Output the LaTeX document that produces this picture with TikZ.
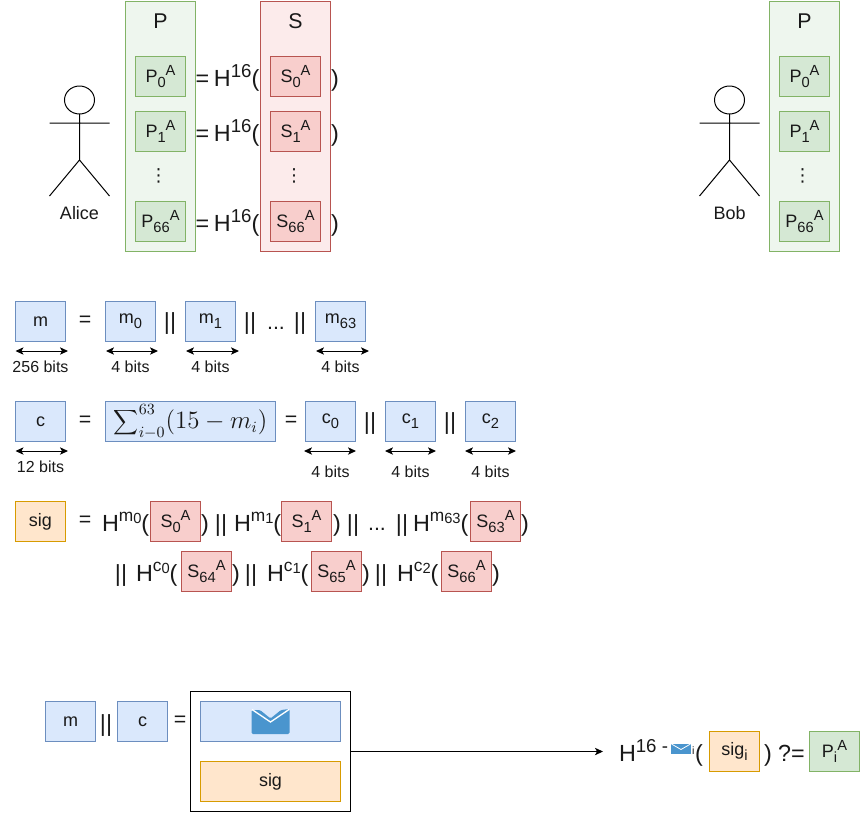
\documentclass[tikz,border=0pt]{standalone}
\usepackage{fontspec}
\setmainfont{Liberation Sans}
\newfontfamily\dejavu{DejaVu Sans}
\usetikzlibrary{arrows.meta}
\definecolor{bluef}{HTML}{DAE8FC}\definecolor{blued}{HTML}{6C8EBF}
\definecolor{greenf}{HTML}{D5E8D4}\definecolor{greend}{HTML}{82B366}
\definecolor{redf}{HTML}{F8CECC}\definecolor{redd}{HTML}{B85450}
\definecolor{orf}{HTML}{FFE6CC}\definecolor{ord}{HTML}{D79B00}
\definecolor{greenp}{HTML}{EEF6EE}\definecolor{redp}{HTML}{FCEBEB}
\definecolor{mail}{HTML}{4A95CE}
\newcommand{\lo}[1]{\raisebox{-0.27em}{\fontsize{11}{11}\selectfont #1}}
\newcommand{\hi}[1]{\raisebox{0.4em}{\fontsize{11}{11}\selectfont #1}}
\newcommand{\bhi}[1]{\raisebox{0.4em}{\fontsize{14}{14}\selectfont #1}}
\newcommand{\shi}[2]{\raisebox{0.42em}{\fontsize{13}{14}\selectfont #1\raisebox{-0.12em}{\fontsize{11}{12}\selectfont #2}}}
\tikzset{
  x=0.75pt,y=-0.75pt,
  every node/.style={inner sep=0pt,outer sep=0pt,text=black!90},
  cellbox/.style={minimum width=37.5pt,minimum height=30pt,anchor=north west,draw,line width=0.75pt,font=\fontsize{13.5}{16}\selectfont},
  bluebox/.style={cellbox,fill=bluef,draw=blued},
  greenbox/.style={cellbox,fill=greenf,draw=greend},
  redbox/.style={cellbox,fill=redf,draw=redd},
  orbox/.style={cellbox,fill=orf,draw=ord},
  panelp/.style={anchor=north west,minimum width=52.5pt,minimum height=187.5pt,draw=greend,fill=greenp,line width=0.75pt},
  panels/.style={anchor=north west,minimum width=52.5pt,minimum height=187.5pt,draw=redd,fill=redp,line width=0.75pt},
  big/.style={anchor=base west,font=\fontsize{17.5}{20}\selectfont},
  bigc/.style={anchor=base,font=\fontsize{17.5}{20}\selectfont},
  small/.style={font=\fontsize{12}{14}\selectfont},
  name label/.style={font=\fontsize{13.5}{16}\selectfont},
  title/.style={font=\fontsize{16}{18}\selectfont},
  op/.style={font=\fontsize{16}{18}\selectfont},
  dotsbase/.style={anchor=base,font=\fontsize{16}{18}\selectfont},
  vdots/.style={font=\dejavu\fontsize{13.5}{14}\selectfont},
  span/.style={{Stealth[length=6pt,width=5.5pt,inset=1.5pt]}-{Stealth[length=6pt,width=5.5pt,inset=1.5pt]},line width=0.75pt},
  actorline/.style={line width=0.75pt,draw=black},
}
\begin{document}
\begin{tikzpicture}
\useasboundingbox (0,0) rectangle (862,814);
% Alice panels
\node[panelp] (pa) at (125.5,1.5) {};
\node[panels] (sa) at (260.5,1.5) {};
\node[title] (pat) at (160.5,21) {P};
\node[title] (sat) at (295.5,21) {S};
\node[greenbox] (p0) at (135.5,56.5) {P\lo{0}\hi{A}};
\node[greenbox] (p1) at (135.5,111.5) {P\lo{1}\hi{A}};
\node[greenbox] (p66) at (135.5,201.5) {P\lo{66}\hi{A}};
\node[vdots] (pd) at (158.5,176) {⋮};
\node[redbox] (s0) at (270.5,56.5) {S\lo{0}\hi{A}};
\node[redbox] (s1) at (270.5,111.5) {S\lo{1}\hi{A}};
\node[redbox] (s66) at (270.5,201.5) {S\lo{66}\hi{A}};
\node[vdots] (sd) at (294,176) {⋮};
\foreach \n/\y in {a/86.5,b/141.5,c/231.5}{
  \node[big] (eq\n) at (195.5,\y) {=\hspace{3.6pt}H\bhi{16}(};
  \node[big] (cl\n) at (331,\y) {)};
}
% Actors
\draw[actorline] (79.5,100) ellipse[x radius=15,y radius=14];
\draw[actorline] (49.5,123) -- (109.5,123) (79.5,114) -- (79.5,160) (49.5,196) -- (79.5,160) -- (109.5,196);
\node[name label] (alice) at (79.5,213) {Alice};
\draw[actorline] (729.5,100) ellipse[x radius=15,y radius=14];
\draw[actorline] (699.5,123) -- (759.5,123) (729.5,114) -- (729.5,160) (699.5,196) -- (729.5,160) -- (759.5,196);
\node[name label] (bob) at (729.5,213) {Bob};
% Bob panel
\node[panelp] (pb) at (769.5,1.5) {};
\node[title] (pbt) at (804.5,21) {P};
\node[greenbox] (bp0) at (779.5,56.5) {P\lo{0}\hi{A}};
\node[greenbox] (bp1) at (779.5,111.5) {P\lo{1}\hi{A}};
\node[greenbox] (bp66) at (779.5,201.5) {P\lo{66}\hi{A}};
\node[vdots] (bpd) at (802.5,176) {⋮};
% m row
\node[bluebox] (m) at (15.5,301.5) {m};
\node[op] (eqm) at (85,321) {=};
\node[bluebox] (m0) at (105.5,301.5) {m\lo{0}};
\node[bigc] (o1) at (170,329) {||};
\node[bluebox] (m1) at (185.5,301.5) {m\lo{1}};
\node[bigc] (o2) at (250,329) {||};
\node[dotsbase] (o3) at (276,329) {...};
\node[bigc] (o4) at (300,329) {||};
\node[bluebox] (m63) at (315.5,301.5) {m\lo{63}};
\foreach \n/\a/\b/\l/\c in {ma/15.5/68/256 bits/40.5,mb/106/158/4 bits/130.5,mc/186/239/4 bits/210.5,md/316/369/4 bits/340.5}{
  \coordinate (\n l) at (\a,351); \coordinate (\n r) at (\b,351);
  \draw[span] (\n l) -- (\n r);
  \node[small] (\n t) at (\c,366.5) {\l};
}
% c row
\node[bluebox] (c) at (15.5,401.5) {c};
\node[op] (eqc) at (85,421) {=};
\node[bluebox,minimum width=127.5pt] (sum) at (105.5,401.5) {\scalebox{1.3}{$\displaystyle\sum\nolimits_{i-0}^{63}(15-m_i)$}};
\node[op] (eqd) at (291,421) {=};
\node[bluebox] (c0) at (305.5,401.5) {c\lo{0}};
\node[bigc] (o5) at (370,429) {||};
\node[bluebox] (c1) at (385.5,401.5) {c\lo{1}};
\node[bigc] (o6) at (450,429) {||};
\node[bluebox] (c2) at (465.5,401.5) {c\lo{2}};
\coordinate (cal) at (15.5,451); \coordinate (car) at (68,451);
\draw[span] (cal) -- (car);
\node[small] (cat) at (40.5,466.5) {12 bits};
\foreach \n/\a/\b/\c in {cb/304/356/330.5,cc/385/436/410.5,cd/465/516/490.5}{
  \coordinate (\n l) at (\a,451); \coordinate (\n r) at (\b,451);
  \draw[span] (\n l) -- (\n r);
  \node[small] (\n t) at (\c,471.5) {4 bits};
}
% sig row
\node[orbox] (sig) at (15.5,501.5) {sig};
\node[op] (eqs) at (85,521) {=};
\node[big] (h0) at (102,531) {H\shi{m}{0}(};
\node[redbox] (r0) at (150.5,501.5) {S\lo{0}\hi{A}};
\node[big] (c0p) at (201,531) {)};
\node[bigc] (v1) at (221,531) {||};
\node[big] (h1) at (234,531) {H\shi{m}{1}(};
\node[redbox] (r1) at (281.5,501.5) {S\lo{1}\hi{A}};
\node[big] (c1p) at (333,531) {)};
\node[bigc] (v2) at (353,531) {||};
\node[dotsbase] (dd) at (377,530) {...};
\node[bigc] (v3) at (402,531) {||};
\node[big] (h2) at (413,531) {H\shi{m}{63}(};
\node[redbox] (r2) at (470.5,501.5) {S\lo{63}\hi{A}};
\node[big] (c2p) at (521,531) {)};
% second row
\node[bigc] (v4) at (121,581) {||};
\node[big] (h3) at (136,581) {H\shi{c}{0}(};
\node[redbox] (r3) at (181.5,551.5) {S\lo{64}\hi{A}};
\node[big] (c3p) at (232,581) {)};
\node[bigc] (v5) at (251,581) {||};
\node[big] (h4) at (267,581) {H\shi{c}{1}(};
\node[redbox] (r4) at (311.5,551.5) {S\lo{65}\hi{A}};
\node[big] (c4p) at (362,581) {)};
\node[bigc] (v6) at (381,581) {||};
\node[big] (h5) at (397,581) {H\shi{c}{2}(};
\node[redbox] (r5) at (441.5,551.5) {S\lo{66}\hi{A}};
\node[big] (c5p) at (492,581) {)};
% bottom
\node[bluebox] (bm) at (45.5,701.5) {m};
\node[bigc] (bo) at (106,731) {||};
\node[bluebox] (bc) at (117.5,701.5) {c};
\node[op] (beq) at (180,721) {=};
\node[anchor=north west,draw=black,line width=0.75pt,minimum width=120pt,minimum height=90pt] (env) at (190.5,691.5) {};
\node[bluebox,minimum width=105pt] (envm) at (200.5,701.5) {};
\node[orbox,minimum width=105pt] (envs) at (200.5,761.5) {sig};
% mail icon large
\fill[mail,rounded corners=1pt] (251.5,710) -- (260,710) -- (270.5,718.5) -- (281,710) -- (289.5,709) -- (289.5,734) -- (251.5,734) -- cycle;
\draw[white,line width=1pt] (252,709.5) -- (270.5,722) -- (289,709.5);
\coordinate (target) at (603,751.5);
\draw[line width=0.75pt,-{Stealth[length=6pt,width=5.5pt,inset=1.5pt]}] (env.east) -- (target);
\node[big] (hb) at (619,761.5) {H\bhi{16 -}};
% mail icon small
\fill[mail] (671,744) rectangle (691,754);
\draw[white,line width=0.6pt] (671.5,744) -- (681,749.5) -- (690.5,744);
\node[anchor=base west,font=\fontsize{8}{8}\selectfont] (bi) at (692,754) {i};
\node[big] (bp) at (695,761.5) {(};
\node[orbox] (sigi) at (709.5,731.5) {sig\lo{i}};
\node[big] (bq) at (764,761.5) {) ?=};
\node[greenbox] (pi) at (809.5,731.5) {P\lo{i}\hi{A}};
\end{tikzpicture}
\end{document}
